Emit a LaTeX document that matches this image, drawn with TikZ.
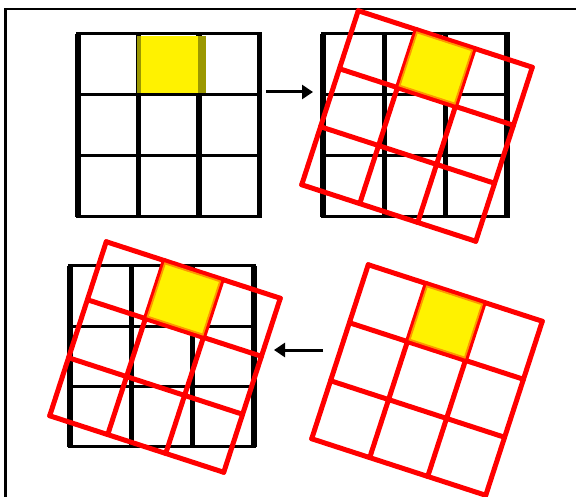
\documentclass[tikz,border=0pt]{standalone}
\usetikzlibrary{arrows.meta}
\definecolor{olivebar}{RGB}{155,152,0}
\definecolor{edgeorange}{RGB}{255,150,0}
\tikzset{
  bv/.style={line width=5.5pt, black},
  bh/.style={line width=3pt, black},
  redline/.style={line width=5pt, red, line cap=round},
  yellowcell/.style={fill=yellow, draw=edgeorange, line width=1.8pt},
  framel/.style={line width=2.5pt, black},
  movearrow/.style={line width=3pt, black, -{Triangle[length=11pt,width=14pt]}}
}
\begin{document}
\begin{tikzpicture}[x=1pt,y=-1pt]
\useasboundingbox (0,0) rectangle (576,497);
% frame
\draw[framel] (5.5,497) -- (5.5,9) -- (576,9);

% ---------- panel 1 (top left) ----------
\foreach \i in {0,...,3} \draw[bv] ({78+60.5*\i},34) -- ({78+60.5*\i},217);
\foreach \j in {0,...,3} \draw[bh] (76,{34+61*\j}) -- (262,{34+61*\j});
\fill[yellow] (137,36) rectangle (206,93);
\fill[olivebar] (137,36) rectangle (141,93);
\fill[olivebar] (198,36) rectangle (206,93);
\draw[bh] (76,34) -- (262,34);
\draw[bh] (76,95) -- (262,95);

% ---------- panel 2 (top right) ----------
\foreach \i in {0,...,3} \draw[bv] ({323+61.33*\i},34) -- ({323+61.33*\i},217);
\foreach \j in {0,...,3} \draw[bh] (321,{34+61*\j}) -- (510,{34+61*\j});
\begin{scope}[shift={(417,126)}, rotate=-18]
  \foreach \k in {0,...,3} {
    \draw[redline] ({-91.5+61*\k},-91.5) -- ({-91.5+61*\k},91.5);
    \draw[redline] (-91.5,{-91.5+61*\k}) -- (91.5,{-91.5+61*\k});
  }
  \filldraw[yellowcell] (-29,-89) rectangle (29,-33);
\end{scope}

% ---------- panel 3 (bottom left) ----------
\foreach \i in {0,...,3} \draw[bv] ({70+61.33*\i},266) -- ({70+61.33*\i},447);
\foreach \j in {0,...,3} \draw[bh] (68,{266+60.33*\j}) -- (256,{266+60.33*\j});
\begin{scope}[shift={(165,357)}, rotate=-18]
  \foreach \k in {0,...,3} {
    \draw[redline] ({-91.5+61*\k},-91.5) -- ({-91.5+61*\k},91.5);
    \draw[redline] (-91.5,{-91.5+61*\k}) -- (91.5,{-91.5+61*\k});
  }
  \filldraw[yellowcell] (-29,-89) rectangle (29,-33);
\end{scope}

% ---------- panel 4 (bottom right) ----------
\begin{scope}[shift={(427,380)}, rotate=-18]
  \foreach \k in {0,...,3} {
    \draw[redline] ({-91.5+61*\k},-91.5) -- ({-91.5+61*\k},91.5);
    \draw[redline] (-91.5,{-91.5+61*\k}) -- (91.5,{-91.5+61*\k});
  }
  \filldraw[yellowcell] (-29,-89) rectangle (29,-33);
\end{scope}

% ---------- arrows ----------
\coordinate (a1s) at (266,92);
\coordinate (a1e) at (313,92);
\coordinate (a2s) at (323,350);
\coordinate (a2e) at (274,350);
\draw[movearrow] (a1s) -- (a1e);
\draw[movearrow] (a2s) -- (a2e);
\end{tikzpicture}
\end{document}
